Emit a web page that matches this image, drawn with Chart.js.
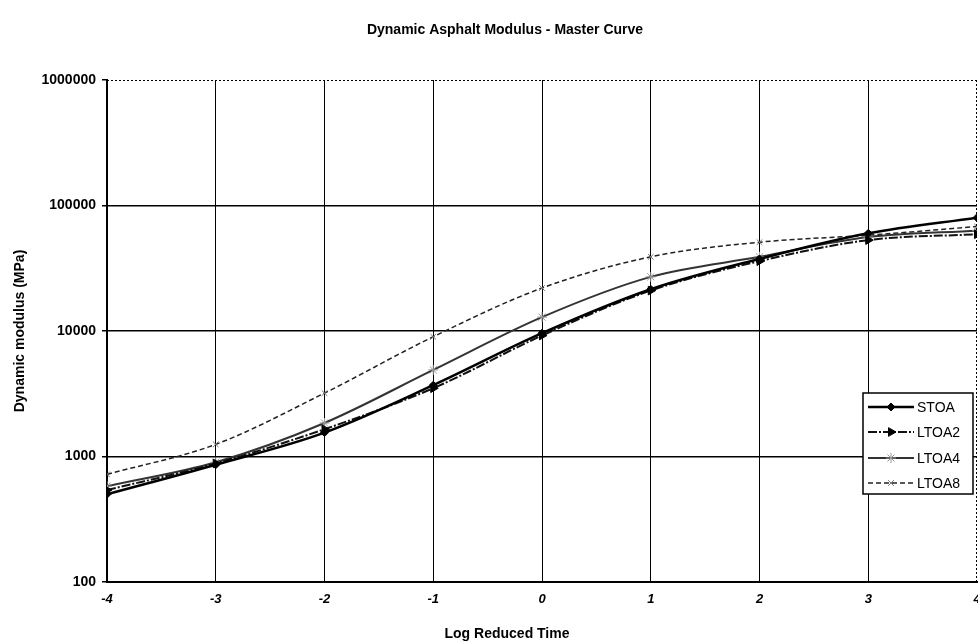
<!DOCTYPE html>
<html>
<head>
<meta charset="utf-8">
<script src="https://cdn.jsdelivr.net/npm/chart.js@4.4.0/dist/chart.umd.min.js"></script>
<style>
  html, body { margin: 0; padding: 0; background: #fff; overflow: hidden; }
  #wrap { width: 978px; height: 643px; overflow: hidden; }
</style>
</head>
<body>
<div id="wrap"><canvas id="master" width="983" height="643"></canvas></div>
<script>
// log reduced time (x) and dynamic modulus in MPa per mix
const logTime = [-4, -3, -2, -1, 0, 1, 2, 3, 4];
const stoa  = [500, 860, 1550, 3700, 9600, 21500, 37500, 60000, 80000];
const ltoa2 = [540, 880, 1650, 3500, 9200, 21000, 36000, 53000, 59000];
const ltoa4 = [580, 900, 1850, 4900, 12900, 27000, 39000, 56000, 63000];
const ltoa8 = [720, 1250, 3200, 9000, 22000, 39000, 51000, 58000, 68000];
const decades = [100, 1000, 10000, 100000, 1000000];

const FONT = '"Liberation Sans", Arial, sans-serif';

const toPoints = arr => logTime.map((x, i) => ({ x: x, y: arr[i] }));

function drawMarker(ctx, ds, x, y) {
    ctx.save();
    ctx.fillStyle = ds.pointBackgroundColor;
    ctx.strokeStyle = ds.pointBorderColor;
    ctx.lineWidth = ds.pointBorderWidth;
    Chart.helpers.drawPoint(ctx, {
        pointStyle: ds.pointStyle,
        radius: ds.pointRadius,
        rotation: ds.pointRotation || 0,
        borderWidth: ds.pointBorderWidth
    }, x, y);
    ctx.restore();
}

// titles, dotted frame edges and the boxed legend
const decorations = {
    id: 'decorations',
    afterDraw(chart) {
        const ctx = chart.ctx;
        const area = chart.chartArea;
        ctx.save();

        // dotted top and right edges of the plot area
        ctx.strokeStyle = '#000';
        ctx.lineWidth = 1;
        ctx.setLineDash([2, 2]);
        ctx.beginPath();
        ctx.moveTo(area.left, area.top + 0.5);
        ctx.lineTo(area.right, area.top + 0.5);
        ctx.moveTo(area.right - 0.5, area.top);
        ctx.lineTo(area.right - 0.5, area.bottom);
        ctx.stroke();
        ctx.setLineDash([]);

        ctx.fillStyle = '#000';
        ctx.textAlign = 'center';
        ctx.textBaseline = 'middle';
        ctx.font = 'bold 14px ' + FONT;
        ctx.fillText('Dynamic Asphalt Modulus - Master Curve', 505, 30);
        ctx.fillText('Log Reduced Time', 507, 634);

        // legend
        const bx = 863, by = 393, bw = 110, bh = 101;
        ctx.fillStyle = '#fff';
        ctx.fillRect(bx, by, bw, bh);
        ctx.strokeStyle = '#000';
        ctx.lineWidth = 1.5;
        ctx.strokeRect(bx, by, bw, bh);

        const rows = [407, 432, 458, 483];
        chart.data.datasets.forEach((ds, i) => {
            const y = rows[i];
            ctx.strokeStyle = ds.borderColor;
            ctx.lineWidth = ds.borderWidth;
            ctx.setLineDash(ds.borderDash || []);
            ctx.beginPath();
            ctx.moveTo(868, y);
            ctx.lineTo(914, y);
            ctx.stroke();
            ctx.setLineDash([]);
            drawMarker(ctx, ds, 891, y);
            ctx.fillStyle = '#000';
            ctx.textAlign = 'left';
            ctx.font = '14px ' + FONT;
            ctx.fillText(ds.label, 917, y + 1);
        });
        ctx.restore();
    }
};

new Chart(document.getElementById('master'), {
    type: 'line',
    data: {
        datasets: [
            {
                label: 'STOA',
                data: toPoints(stoa),
                borderColor: '#000',
                borderWidth: 2.5,
                pointStyle: 'rectRot',
                pointRadius: 4,
                pointBackgroundColor: '#000',
                pointBorderColor: '#000',
                pointBorderWidth: 1
            },
            {
                label: 'LTOA2',
                data: toPoints(ltoa2),
                borderColor: '#111',
                borderWidth: 2,
                borderDash: [9, 2, 2, 2],
                pointStyle: 'triangle',
                pointRotation: 90,
                pointRadius: 5,
                pointBackgroundColor: '#000',
                pointBorderColor: '#000',
                pointBorderWidth: 1
            },
            {
                label: 'LTOA4',
                data: toPoints(ltoa4),
                borderColor: '#333',
                borderWidth: 2,
                pointStyle: 'star',
                pointRadius: 5,
                pointBackgroundColor: '#fff',
                pointBorderColor: '#999',
                pointBorderWidth: 1
            },
            {
                label: 'LTOA8',
                data: toPoints(ltoa8),
                borderColor: '#222',
                borderWidth: 1.5,
                borderDash: [5, 3],
                pointStyle: 'crossRot',
                pointRadius: 4,
                pointBackgroundColor: '#fff',
                pointBorderColor: '#777',
                pointBorderWidth: 1
            }
        ]
    },
    options: {
        responsive: false,
        animation: false,
        devicePixelRatio: 1,
        layout: { padding: { top: 80, right: 2, left: 0, bottom: 0 } },
        elements: { line: { cubicInterpolationMode: 'monotone' } },
        plugins: {
            legend: { display: false },
            title: { display: false },
            tooltip: { enabled: false }
        },
        scales: {
            x: {
                type: 'linear',
                min: -4,
                max: 4,
                afterFit(scale) {
                    scale.height = 61;
                    scale.paddingLeft = 0;
                    scale.paddingRight = 0;
                },
                ticks: {
                    stepSize: 1,
                    padding: 10,
                    color: '#000',
                    font: { family: FONT, size: 13, weight: 'bold', style: 'italic' }
                },
                grid: {
                    color: ctx => ctx.tick && ctx.tick.value === 4 ? 'transparent' : '#000',
                    lineWidth: 1,
                    drawTicks: false
                },
                border: { color: '#000', width: 2 }
            },
            y: {
                type: 'logarithmic',
                min: 100,
                max: 1000000,
                afterBuildTicks(scale) {
                    scale.ticks = decades.map(v => ({ value: v }));
                },
                afterFit(scale) {
                    scale.width = 107;
                },
                ticks: {
                    padding: 6,
                    color: '#000',
                    callback: v => String(v),
                    font: { family: FONT, size: 14, weight: 'bold' }
                },
                grid: {
                    color: ctx => ctx.tick && ctx.tick.value === 1000000 ? 'transparent' : '#000',
                    tickColor: '#000',
                    lineWidth: 1.5,
                    tickLength: 5
                },
                border: { color: '#000', width: 2 },
                title: {
                    display: true,
                    text: 'Dynamic modulus (MPa)',
                    color: '#000',
                    padding: { top: 12, bottom: 0 },
                    font: { family: FONT, size: 14, weight: 'bold' }
                }
            }
        }
    },
    plugins: [decorations]
});
</script>
</body>
</html>
